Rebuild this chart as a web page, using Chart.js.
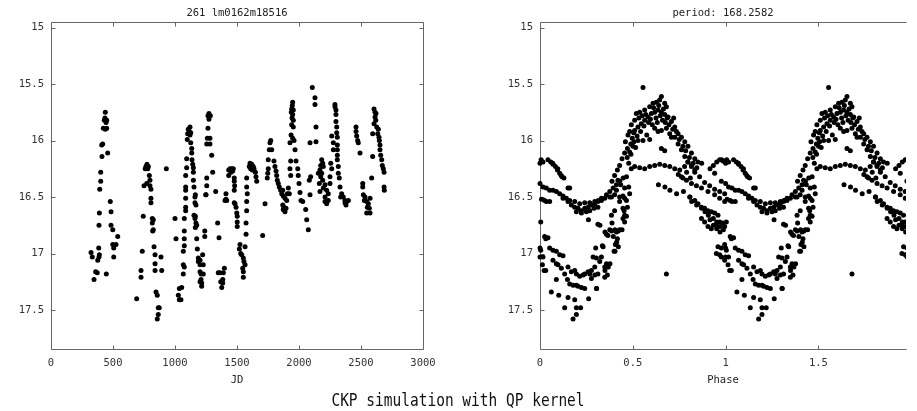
<!DOCTYPE html>
<html><head><meta charset="utf-8">
<script src="https://cdn.jsdelivr.net/npm/chart.js@4/dist/chart.umd.min.js"></script>
<style>
html,body{margin:0;padding:0;background:#fff;width:917px;height:411px;overflow:hidden;}
#wrap{position:relative;width:917px;height:411px;background:#fff;}
canvas{position:absolute;top:0;}
.t{position:absolute;font-family:"DejaVu Sans Mono",monospace;font-size:10.5px;line-height:1;color:#222;white-space:nowrap;transform:translateX(-50%);}
#cap{position:absolute;left:458px;top:391px;font-family:"DejaVu Sans Mono",monospace;font-size:14.5px;line-height:1;color:#111;white-space:nowrap;transform:translateX(-50%) scaleY(1.25);transform-origin:50% 0;}
</style>
</head><body>
<div id="wrap">
<canvas id="c1" width="460" height="385" style="left:0;width:460px;height:385px"></canvas>
<canvas id="c2" width="457" height="385" style="left:460px;width:457px;height:385px"></canvas>
<div class="t" style="left:237px;top:7px">261 lm0162m18516</div>
<div class="t" style="left:723px;top:7px">period: 168.2582</div>
<div class="t" style="left:237px;top:374px">JD</div>
<div class="t" style="left:723px;top:374px">Phase</div>
<div id="cap">CKP simulation with QP kernel</div>
</div>
<script>
// ---- data: light curve (JD, magnitude) ----
const jd = [
438,435,449,430,444,422,449,438,417,409,457,411,401,401,393,478,390,484,387,484,498,538,498,524,506,506,385,323,333,390,387,377,360,373,446,347,
774,766,785,760,780,793,798,772,750,798,806,806,806,930,691,726,726,736,744,817,825,817,825,820,831,839,839,839,893,887,847,857,865,873,865,857,
1000,1008,1035,1054,1027,1035,1048,1121,1107,1115,1127,1102,1121,1099,1127,1135,1135,1094,1137,1143,1148,1148,1094,1086,1148,1086,1086,1153,1086,1161,1086,1086,1075,1075,1075,1075,1067,1067,1075,1067,1164,1161,1169,1153,1164,1161,1169,1175,1164,1175,1180,1188,1188,1202,1223,1228,1202,1202,1210,1228,1210,1215,1215,1202,1240,1240,1250,
1274,1266,1285,1274,1266,1261,1282,1256,1282,1296,1304,1256,1256,1248,1328,
1344,1355,1349,1363,1390,1398,1385,1369,1385,1377,1403,1411,1444,1457,1470,1433,1452,1465,1433,1478,1478,1481,1478,1411,1417,1478,
1578,1578,1583,1578,1605,1619,1631,1599,1610,1623,1637,1648,1653,1659,1726,1484,1492,1498,1502,1502,1502,1578,1573,1573,1524,1519,1530,1538,1551,1556,1565,1546,1551,1551,1565,1707,
1772,1766,1760,1780,1752,1752,1748,1744,1798,1806,1815,1820,1825,1833,1841,1852,1861,1873,1887,1901,1869,1906,1914,1922,1869,1879,1895,1873,1887,
1949,1946,1941,1954,1938,1949,1944,1954,1941,1954,1936,1949,1960,1927,1968,1933,1976,1927,1990,1933,1994,2000,2008,2016,2030,2054,2062,2075,2089,2083,2094,
2107,2129,2129,2137,2089,2137,2183,2191,2175,2196,2169,2183,2156,2175,2191,2164,2210,2196,2169,2223,2236,2256,2264,2250,2250,2210,2210,2223,2236,
2264,2290,2290,2298,2298,2298,2304,2304,2309,2309,2309,2309,2309,2317,2317,2325,2277,2277,2331,2344,2357,2371,2385,2336,2371,2398,2379,
2460,2460,2465,2473,2478,2492,2514,2514,2519,2527,2532,2546,2573,2559,2551,2567,2546,2573,2586,
2605,2613,2621,2613,2619,2605,2627,2640,2635,2645,2648,2653,2653,2659,2667,2672,2680,2686,2594,2594,2686,2688
];
const mag = [
15.75,15.80,15.82,15.82,15.84,15.89,15.89,15.90,16.03,16.04,16.11,16.14,16.28,16.36,16.43,16.54,16.64,16.63,16.75,16.75,16.79,16.85,16.92,16.92,16.95,17.03,16.95,16.99,17.03,17.01,17.03,17.06,17.16,17.17,17.18,17.23,
16.21,16.23,16.23,16.25,16.25,16.31,16.35,16.38,16.40,16.40,16.43,16.51,16.55,16.25,17.40,17.15,17.21,16.98,16.67,16.69,16.70,16.73,16.79,16.80,16.94,17.01,17.09,17.15,17.15,17.03,17.34,17.37,17.48,17.48,17.54,17.58,
16.69,16.87,17.31,17.30,17.37,17.41,17.41,15.88,15.90,15.92,15.93,15.94,15.95,15.99,16.02,16.07,16.11,16.16,16.17,16.21,16.24,16.28,16.24,16.31,16.35,16.41,16.44,16.41,16.51,16.50,16.59,16.62,16.69,16.80,16.87,16.93,16.98,17.10,17.12,17.18,16.48,16.55,16.57,16.66,16.67,16.69,16.73,16.75,16.77,16.87,16.96,17.04,17.07,17.06,17.01,17.10,17.10,17.16,17.18,17.18,17.23,17.26,17.29,17.25,16.80,16.85,16.48,
15.76,15.78,15.78,15.81,15.89,15.98,15.98,16.03,16.03,16.13,16.28,16.33,16.40,16.48,16.45,
16.73,16.86,17.17,17.17,17.17,17.13,17.23,17.25,17.26,17.30,16.53,16.52,16.25,16.25,16.25,16.26,16.28,16.27,16.31,16.33,16.36,16.40,16.44,16.47,16.53,16.55,
16.33,16.41,16.47,16.54,16.20,16.21,16.23,16.23,16.25,16.26,16.25,16.28,16.32,16.36,16.56,16.56,16.59,16.64,16.67,16.72,16.76,16.62,16.73,16.83,16.92,16.96,17.00,17.01,17.04,17.07,17.10,17.13,17.16,17.21,16.94,16.84,
16.00,16.02,16.08,16.08,16.17,16.25,16.29,16.33,16.18,16.23,16.27,16.31,16.35,16.38,16.41,16.44,16.47,16.49,16.51,16.53,16.44,16.47,16.42,16.47,16.57,16.59,16.60,16.61,16.63,
15.66,15.69,15.72,15.73,15.75,15.77,15.80,15.82,15.86,15.88,15.95,15.98,16.00,16.02,16.08,16.18,16.18,16.25,16.25,16.31,16.31,16.38,16.46,16.53,16.54,16.61,16.70,16.79,16.48,16.35,16.32,
15.53,15.62,15.68,15.88,16.02,16.01,16.17,16.20,16.22,16.23,16.26,16.29,16.29,16.32,16.35,16.38,16.39,16.42,16.45,16.44,16.47,16.20,16.25,16.32,16.38,16.50,16.54,16.56,16.53,
15.96,15.68,15.70,15.73,15.77,15.83,15.88,15.93,15.97,16.04,16.08,16.13,16.17,16.23,16.29,16.33,16.02,16.08,16.41,16.47,16.50,16.53,16.54,16.50,16.55,16.53,16.57,
15.88,15.92,15.96,16.00,16.02,16.11,16.38,16.41,16.48,16.53,16.50,16.54,16.51,16.56,16.59,16.60,16.64,16.64,16.33,
15.72,15.75,15.76,15.79,15.82,15.85,15.88,15.90,15.94,15.97,16.00,16.04,16.08,16.13,16.17,16.22,16.25,16.28,15.94,16.14,16.41,16.44
];
// ---- data: folded light curve (phase in one cycle, magnitude); drawn twice (cycle 0 and cycle 1) ----
const phase = [
0.000,0.016,0.043,0.058,0.070,0.083,0.094,0.106,0.119,0.129,0.006,0.069,0.096,0.114,0.871,0.916,0.934,0.952,0.979,0.968,0.986,
0.000,0.016,0.034,0.052,0.070,0.088,0.106,0.124,0.142,0.160,0.160,0.151,0.008,0.034,
0.187,0.214,0.241,0.268,0.295,0.314,0.331,0.358,0.376,0.394,0.412,0.430,0.448,0.466,
0.025,0.052,0.124,0.151,0.169,0.187,0.205,0.223,0.241,0.259,0.277,0.295,0.312,0.331,0.349,0.196,0.223,0.250,0.268,0.291,0.312,0.376,0.402,0.429,0.456,
0.492,0.510,0.537,0.564,0.591,0.618,0.645,0.672,0.699,0.726,0.753,0.779,0.797,0.816,0.834,
0.555,
0.388,0.402,0.417,0.429,0.442,0.456,0.471,0.489,0.506,0.528,0.555,0.591,
0.460,0.474,0.483,0.492,0.510,0.519,0.537,0.564,0.591,0.609,0.627,0.645,0.654,0.672,0.681,
0.483,0.501,0.510,0.528,0.546,0.564,0.582,0.600,0.618,0.636,0.654,0.672,0.654,0.672,0.618,0.636,0.654,0.681,0.699,0.708,
0.690,0.708,0.726,0.744,0.762,0.780,0.797,0.816,0.834,0.851,
0.726,0.744,0.762,0.780,0.797,0.816,0.834,0.860,0.887,0.914,0.941,0.968,0.995,
0.762,0.789,0.816,0.843,0.870,0.905,0.941,0.968,0.995,
0.638,0.673,0.700,0.736,0.773,0.808,0.941,0.977,
0.385,0.412,0.435,0.456,0.478,0.483,0.447,0.420,0.429,
0.004,0.402,0.453,0.456,0.447,0.385,0.388,0.312,0.376,0.358,0.366,0.429,0.417,0.406,0.399,0.336,0.300,0.447,
0.000,0.000,0.016,0.025,0.043,0.052,0.070,0.088,0.106,0.124,0.070,0.088,0.097,0.115,0.133,0.151,0.169,0.187,0.196,0.214,0.232,0.241,0.022,0.088,0.148,0.160,0.178,0.196,0.205,0.223,0.241,0.061,0.101,0.151,0.187,0.133,0.196,0.219,0.178,0.196,
0.262,0.304,0.259,0.277,0.295,0.322,0.349,0.358,0.304,0.286,0.331,0.340,0.366,0.363,0.349,0.312,0.295,0.277,0.268,
0.412,0.442,0.456,0.466,0.471,0.466,0.681,0.261,0.323,0.350,0.386,0.404,0.422,0.395,0.413,0.422,0.404,0.377,0.368,0.350,0.305,
0.807,0.834,0.851,0.870,0.887,0.905,0.923,0.941,0.959,0.870,0.887,0.905,0.923,0.950,0.968,0.986,0.995,0.031,0.959,0.977,0.995,0.004,0.950,0.968,0.977,0.995,0.013,0.031,
0.817,0.844,0.871,0.889,0.907,0.934,0.952,0.970,0.988,0.916,0.934,0.952,0.970,
0.470,0.478,0.490,0.497,0.505,0.515,0.523,0.533,0.542,0.550,0.560,0.570,0.575,0.585,0.595,0.605,0.612,0.625,0.632,0.640,0.648,0.660,0.665,0.675,0.685,0.695,0.715,0.720,0.735,0.750,0.770,0.785,0.805,0.825,0.845,
0.745,0.770,0.790,0.810
];
const phaseMag = [
16.20,16.19,16.17,16.19,16.21,16.23,16.26,16.29,16.32,16.33,16.17,16.20,16.25,16.31,16.20,16.25,16.22,16.19,16.17,16.17,16.18,
16.38,16.41,16.42,16.44,16.44,16.45,16.47,16.49,16.51,16.53,16.42,16.42,16.52,16.54,
16.54,16.56,16.55,16.55,16.54,16.53,16.51,16.48,16.45,16.42,16.39,16.36,16.33,16.32,
16.53,16.54,16.51,16.54,16.57,16.59,16.60,16.62,16.60,16.59,16.57,16.56,16.54,16.53,16.51,16.63,16.64,16.63,16.62,16.60,16.59,16.50,16.48,16.50,16.51,
16.25,16.23,16.24,16.25,16.23,16.22,16.21,16.22,16.23,16.25,16.26,16.23,16.19,16.22,16.26,
15.53,
16.36,16.31,16.26,16.22,16.16,16.11,16.07,16.03,16.01,16.00,16.00,15.99,
16.01,15.95,15.92,15.86,15.82,15.76,15.75,15.73,15.70,15.67,15.66,15.64,15.61,15.67,15.70,
16.10,16.05,15.91,15.88,15.85,15.82,15.79,15.76,15.75,15.73,15.75,15.77,16.07,16.09,15.89,15.92,15.91,15.89,15.94,15.97,
15.79,15.83,15.88,15.94,15.97,16.01,16.05,16.11,16.16,16.19,
15.97,16.03,16.08,16.14,16.19,16.23,16.28,16.32,16.37,16.40,16.43,16.45,16.47,
16.32,16.35,16.38,16.40,16.42,16.45,16.48,16.51,16.54,
16.39,16.41,16.44,16.47,16.45,16.50,16.29,16.36,
16.50,16.44,16.39,16.42,16.41,16.47,16.49,16.35,16.54,
16.72,16.62,16.62,16.66,16.69,16.66,16.73,16.74,16.79,16.83,16.84,16.79,16.87,16.92,16.98,16.93,16.95,16.60,
16.95,17.03,17.03,16.85,16.86,16.95,16.97,16.98,17.01,17.02,17.06,17.09,17.10,17.13,17.18,17.12,17.16,17.15,17.18,17.20,17.19,17.18,17.15,17.23,17.23,17.27,17.28,17.28,17.29,17.30,17.31,17.34,17.37,17.39,17.41,17.48,17.48,17.48,17.58,17.54,
17.40,17.31,17.16,17.15,17.12,17.07,17.12,17.09,17.04,17.03,17.03,16.94,17.10,17.19,17.21,17.18,17.19,17.22,17.18,
16.81,16.79,16.72,16.67,16.59,16.53,17.18,16.70,16.75,16.81,16.80,16.79,16.80,16.85,16.90,16.94,16.98,17.09,17.12,17.15,17.31,
16.50,16.53,16.56,16.59,16.60,16.62,16.63,16.64,16.66,16.69,16.72,16.76,16.78,16.75,16.72,16.73,16.76,16.87,16.94,16.95,16.92,16.97,17.00,17.01,17.03,17.06,17.10,17.15,
16.54,16.57,16.60,16.63,16.66,16.69,16.72,16.76,16.79,16.70,16.75,16.78,16.81,
16.15,16.20,16.12,15.98,15.93,16.06,15.96,15.80,15.92,15.78,15.87,15.77,15.95,15.84,15.81,15.86,15.71,15.80,15.84,15.69,15.78,15.82,15.72,15.84,15.80,15.86,15.90,15.80,15.92,15.99,16.05,16.09,16.15,16.20,16.24,
16.30,16.33,16.28,16.33
];
const cycles = [0, 1];
// ---- tick labels ----
const jdTicks = [0, 500, 1000, 1500, 2000, 2500, 3000];
const magTicks = [15, 15.5, 16, 16.5, 17, 17.5];
const phaseTicks = [0, 0.5, 1, 1.5];

const FONT = {family: 'DejaVu Sans Mono', size: 10.5};
const TXT = '#333';

function framePlugin(showRight) {
  return {
    id: 'frame',
    beforeDatasetsDraw(chart) {
      const ctx = chart.ctx, a = chart.chartArea, xs = chart.scales.x, ys = chart.scales.y;
      const L = Math.round(a.left) + 0.5, R = Math.round(a.right) + 0.5;
      const T = Math.round(a.top) + 0.5, B = Math.round(a.bottom) + 0.5;
      ctx.save();
      ctx.strokeStyle = '#666';
      ctx.lineWidth = 1;
      ctx.beginPath();
      ctx.moveTo(R, T); ctx.lineTo(L, T); ctx.lineTo(L, B); ctx.lineTo(R, B);
      if (showRight) { ctx.moveTo(R, T); ctx.lineTo(R, B); }
      const tl = 4;
      xs.ticks.forEach(t => {
        const px = Math.round(xs.getPixelForValue(t.value)) + 0.5;
        ctx.moveTo(px, B); ctx.lineTo(px, B - tl);
        ctx.moveTo(px, T); ctx.lineTo(px, T + tl);
      });
      ys.ticks.forEach(t => {
        const py = Math.round(ys.getPixelForValue(t.value)) + 0.5;
        ctx.moveTo(L, py); ctx.lineTo(L + tl, py);
        if (showRight) { ctx.moveTo(R, py); ctx.lineTo(R - tl, py); }
      });
      ctx.stroke();
      ctx.restore();
    }
  };
}

function makeChart(id, data, xMin, xMax, xTicks, yAxisWidth, padRight, showRight, clip) {
  return new Chart(document.getElementById(id), {
    type: 'scatter',
    data: {datasets: [{
      data: data,
      pointStyle: 'circle',
      pointRadius: 2.5,
      pointBackgroundColor: '#000',
      pointBorderWidth: 0,
      showLine: false,
      clip: clip
    }]},
    options: {
      responsive: false,
      animation: false,
      devicePixelRatio: 1,
      events: [],
      layout: {padding: {left: 0, right: padRight, top: 22, bottom: 0}},
      plugins: {legend: {display: false}, tooltip: {enabled: false}},
      scales: {
        x: {
          type: 'linear', min: xMin, max: xMax,
          afterBuildTicks: s => { s.ticks = xTicks.map(v => ({value: v})); },
          afterFit: s => { s.height = 36; },
          grid: {display: false, drawTicks: false},
          border: {display: false},
          ticks: {padding: 8, font: FONT, color: TXT, maxRotation: 0, autoSkip: false,
                  callback: v => String(v)}
        },
        y: {
          type: 'linear', reverse: true, min: 14.95, max: 17.845,
          afterBuildTicks: s => { s.ticks = magTicks.map(v => ({value: v})); },
          afterFit: s => { s.width = yAxisWidth; },
          grid: {display: false, drawTicks: false},
          border: {display: false},
          ticks: {padding: 7, font: FONT, color: TXT, autoSkip: false,
                  callback: v => String(v)}
        }
      }
    },
    plugins: [framePlugin(showRight)]
  });
}

const lcPoints = jd.map((d, i) => ({x: d, y: mag[i]}));
const foldPoints = [];
cycles.forEach(c => phase.forEach((p, i) => foldPoints.push({x: p + c, y: phaseMag[i]})));

makeChart('c1', lcPoints, 0, 3000, jdTicks, 51, 37, true, false);
makeChart('c2', foldPoints, 0, 1.972, phaseTicks, 80, 11, false, {left: 4, top: 4, bottom: 4, right: 0});
</script>
</body></html>
